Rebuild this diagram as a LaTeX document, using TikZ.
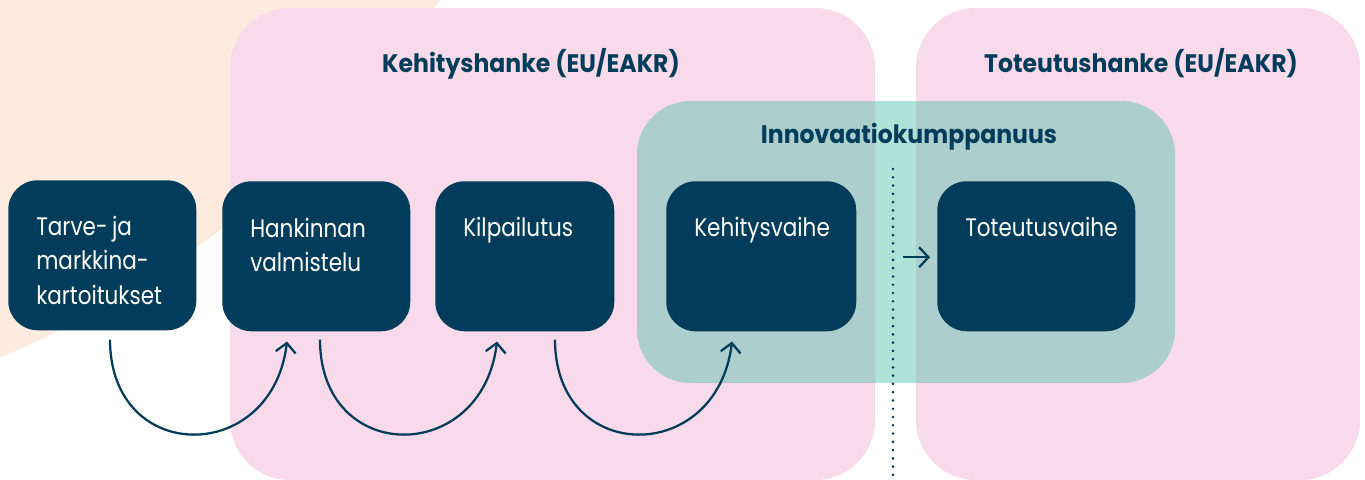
\documentclass[tikz,border=0pt]{standalone}
\usepackage{fontspec}
\setmainfont{Poppins}
\newfontfamily\boxfont[FakeStretch=0.85]{Poppins}
\newfontfamily\titlefont[FakeStretch=0.93]{Poppins}
\usetikzlibrary{arrows.meta,calc}
\definecolor{navy}{HTML}{013D5B}
\definecolor{pinkbg}{HTML}{F9DAEA}
\definecolor{peach}{HTML}{FDEBE0}
\definecolor{tealbg}{RGB}{79,193,168}
\tikzset{
  box/.style={fill=navy, rounded corners=22pt, inner sep=0pt, minimum height=112.5pt, anchor=north west},
  boxtext/.style={text=white, anchor=base west, inner sep=0pt, align=left, text width=130pt,
     font=\boxfont\fontsize{19}{25.9}\selectfont},
  title/.style={text=navy, anchor=base, inner sep=0pt, font=\titlefont\fontsize{19}{24}\selectfont\bfseries},
  flow/.style={draw=navy, line width=1.7pt, -{Straight Barb[length=7pt,width=15pt,line width=1.7pt]}},
}
\begin{document}
\begin{tikzpicture}[x=0.75pt,y=-0.75pt]
\useasboundingbox (0,0) rectangle (1365,479);
\fill[white] (0,0) rectangle (1365,479);
\begin{scope}
\clip (0,0) rectangle (1365,479);
\fill[peach] (-391,-574) circle[radius=757.5pt];
\fill[pinkbg, rounded corners=45pt] (230,8) rectangle (875,480);
\fill[pinkbg, rounded corners=45pt] (916,8) rectangle (1360,480);
\fill[tealbg, fill opacity=0.45, rounded corners=40pt] (637,101) rectangle (1175,383);
\end{scope}

\node[title] (h1) at (531,72) {Kehityshanke (EU/EAKR)};
\node[title] (h2) at (1141,72) {Toteutushanke (EU/EAKR)};
\node[title] (h3) at (909,143) {Innovaatiokumppanuus};

\node[box, minimum width=141pt] (b1) at (8,180) {};
\node[box, minimum width=141pt] (b2) at (222,181) {};
\node[box, minimum width=134.25pt] (b3) at (435,181) {};
\node[box, minimum width=142.5pt] (b4) at (666,181) {};
\node[box, minimum width=148.5pt] (b5) at (937,181) {};

\node[boxtext] (t1) at ($(b1.north west)+(28,55)$) {Tarve-\,ja\\markkina-\\kartoitukset};
\node[boxtext] (t2) at ($(b2.north west)+(28,56)$) {Hankinnan\\valmistelu};
\node[boxtext] (t3) at ($(b3.north west)+(28,55)$) {Kilpailutus};
\node[boxtext] (t4) at ($(b4.north west)+(28,55)$) {Kehitysvaihe};
\node[boxtext] (t5) at ($(b5.north west)+(28,55)$) {Toteutusvaihe};

\coordinate (s1) at ($(b1.south west)+(102,9)$);
\coordinate (e1) at ($(b2.south west)+(65,10)$);
\coordinate (s2) at ($(b2.south west)+(98,8)$);
\coordinate (e2) at ($(b3.south west)+(62,10)$);
\coordinate (s3) at ($(b3.south west)+(120,8)$);
\coordinate (e3) at ($(b4.south west)+(66,10)$);

\draw[flow] (s1) .. controls ($(s1)+(0,126)$) and ($(e1)+(-15,124)$) .. (e1);
\draw[flow] (s2) .. controls ($(s2)+(0,126)$) and ($(e2)+(-15,124)$) .. (e2);
\draw[flow] (s3) .. controls ($(s3)+(0,126)$) and ($(e3)+(-15,124)$) .. (e3);

\coordinate (d1) at (893,169);
\coordinate (d2) at (893,482);
\draw[navy, line width=2.2pt, line cap=round, dash pattern=on 0pt off 6.2pt] (d1) -- (d2);

\coordinate (a1) at ($(b5.west)+(-34,1)$);
\coordinate (a2) at ($(b5.west)+(-7,1)$);
\draw[flow] (a1) -- (a2);
\end{tikzpicture}
\end{document}
